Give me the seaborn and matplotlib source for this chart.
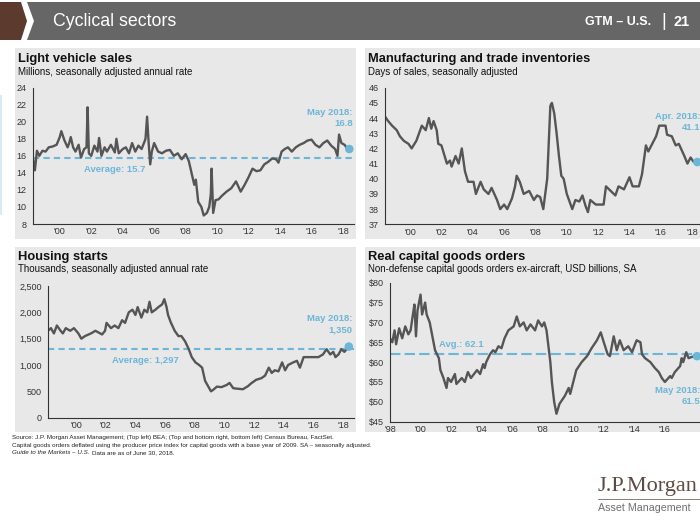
import matplotlib.pyplot as plt
import matplotlib.ticker as mticker
from matplotlib.patches import Polygon, Rectangle
import pandas as pd
import seaborn as sns

W, H = 700, 525
LINE = "#555555"
BLUE = "#6cb6d8"
PANEL = "#e8e8e8"

# ---------------- data ----------------

# Light vehicle sales, millions SAAR
lvs_year = [1998.25, 1998.42, 1998.55, 1998.70, 1998.90, 1999.10, 1999.30, 1999.55, 1999.80,
            2000.00, 2000.10, 2000.30, 2000.50, 2000.60, 2000.70, 2000.85, 2001.00, 2001.20,
            2001.35, 2001.55, 2001.70, 2001.77, 2001.85, 2002.00, 2002.20, 2002.40, 2002.50,
            2002.65, 2002.85, 2003.00, 2003.25, 2003.50, 2003.60, 2003.75, 2004.00, 2004.20,
            2004.40, 2004.60, 2004.80, 2005.00, 2005.20, 2005.35, 2005.45, 2005.55, 2005.65,
            2005.75, 2005.85, 2006.00, 2006.25, 2006.50, 2006.75, 2007.00, 2007.25, 2007.50,
            2007.75, 2008.00, 2008.20, 2008.40, 2008.55, 2008.65, 2008.80, 2009.00, 2009.15,
            2009.35, 2009.50, 2009.60, 2009.65, 2009.75, 2009.90, 2010.10, 2010.30, 2010.60,
            2010.90, 2011.20, 2011.35, 2011.50, 2011.75, 2012.00, 2012.25, 2012.50, 2012.75,
            2013.00, 2013.25, 2013.50, 2013.75, 2013.90, 2014.10, 2014.30, 2014.50, 2014.75,
            2015.00, 2015.25, 2015.50, 2015.75, 2016.00, 2016.25, 2016.50, 2016.75, 2017.00,
            2017.25, 2017.50, 2017.65, 2017.75, 2017.90, 2018.10, 2018.25, 2018.40]
lvs_value = [16.2, 14.3, 16.6, 16.0, 16.6, 16.5, 17.0, 17.1, 17.3,
             18.2, 18.9, 17.8, 17.0, 17.5, 18.2, 17.0, 16.5, 17.3,
             15.8, 16.8, 17.0, 21.7, 16.3, 16.0, 17.2, 16.5, 18.1,
             16.0, 17.0, 16.5, 17.3, 16.4, 18.0, 16.3, 16.8, 17.0,
             16.3, 17.5, 16.5, 17.2, 16.8, 17.5, 18.0, 20.6, 17.5,
             15.0, 16.5, 17.5, 16.5, 16.3, 16.6, 16.7, 16.0, 16.3,
             15.6, 16.2, 15.4, 13.8, 12.6, 13.2, 10.6, 10.0, 9.0,
             9.3, 10.0, 11.5, 14.5, 9.3, 10.8, 10.9, 11.3, 11.8,
             12.2, 13.0, 12.4, 11.8, 12.6, 13.5, 14.5, 14.2, 14.3,
             15.0, 15.3, 15.7, 15.6, 15.2, 16.5, 16.8, 17.0, 16.5,
             17.0, 17.3, 17.5, 17.8, 17.9, 17.3, 17.0, 17.5, 17.8,
             17.2, 16.8, 16.0, 18.5, 17.5, 17.3, 16.9, 16.8]
lvs_avg = 15.7

# Manufacturing and trade inventories, days of sales
inv_year = [1998.40, 1998.60, 1998.85, 1999.15, 1999.35, 1999.60, 1999.90, 2000.10, 2000.40,
            2000.75, 2001.00, 2001.20, 2001.35, 2001.50, 2001.70, 2001.80, 2002.00, 2002.35,
            2002.55, 2002.65, 2002.90, 2003.10, 2003.30, 2003.50, 2003.70, 2004.05, 2004.20,
            2004.50, 2004.70, 2005.00, 2005.20, 2005.55, 2005.75, 2006.00, 2006.20, 2006.50,
            2006.70, 2006.80, 2007.00, 2007.25, 2007.60, 2007.90, 2008.10, 2008.30, 2008.50,
            2008.75, 2008.95, 2009.05, 2009.20, 2009.35, 2009.50, 2009.65, 2009.80, 2010.00,
            2010.35, 2010.55, 2010.80, 2011.00, 2011.20, 2011.35, 2011.50, 2011.85, 2012.35,
            2012.50, 2012.80, 2013.10, 2013.30, 2013.65, 2014.00, 2014.20, 2014.60, 2014.80,
            2015.05, 2015.20, 2015.45, 2015.70, 2015.90, 2016.30, 2016.40, 2016.70, 2016.95,
            2017.15, 2017.50, 2017.70, 2017.90, 2018.10, 2018.33]
inv_value = [44.1, 43.8, 43.5, 43.2, 42.8, 42.5, 42.3, 42.0, 42.5,
             43.5, 43.2, 44.0, 43.3, 43.8, 43.2, 42.3, 42.2, 41.0,
             41.2, 40.8, 41.5, 41.0, 42.0, 40.5, 39.8, 39.8, 39.0,
             39.8, 39.3, 39.0, 39.4, 38.6, 38.0, 38.3, 38.0, 38.7,
             39.5, 40.2, 39.8, 39.0, 39.2, 38.6, 38.9, 38.8, 38.0,
             40.0, 44.8, 45.0, 44.3, 43.0, 41.5, 40.2, 40.0, 39.0,
             38.0, 38.6, 38.5, 38.9, 38.2, 37.8, 38.6, 38.3, 38.3,
             39.5, 39.2, 38.9, 39.5, 39.3, 40.1, 39.5, 39.5, 40.3,
             42.2, 41.8, 42.3, 42.8, 43.5, 43.5, 42.9, 42.8, 42.2,
             42.3, 41.5, 41.0, 41.4, 41.1, 41.1]

# Housing starts, thousands SAAR
hs_year = [1998.10, 1998.30, 1998.50, 1998.70, 1998.95, 1999.10, 1999.30, 1999.60, 1999.85,
           2000.15, 2000.35, 2000.60, 2001.00, 2001.30, 2001.75, 2001.95, 2002.05, 2002.35,
           2002.60, 2002.85, 2003.10, 2003.30, 2003.55, 2003.80, 2004.00, 2004.15, 2004.40,
           2004.60, 2004.80, 2004.95, 2005.10, 2005.35, 2005.55, 2005.80, 2005.95, 2006.10,
           2006.20, 2006.40, 2006.65, 2006.90, 2007.10, 2007.35, 2007.60, 2007.80, 2008.05,
           2008.30, 2008.50, 2008.70, 2008.90, 2009.10, 2009.25, 2009.50, 2009.80, 2010.15,
           2010.35, 2010.60, 2010.90, 2011.25, 2011.60, 2011.80, 2012.15, 2012.50, 2012.75,
           2013.00, 2013.20, 2013.40, 2013.65, 2013.90, 2014.10, 2014.30, 2014.65, 2014.90,
           2015.10, 2015.35, 2015.70, 2016.00, 2016.35, 2016.65, 2016.90, 2017.15, 2017.35,
           2017.50, 2017.70, 2017.90, 2018.10, 2018.40]
hs_value = [1650, 1700, 1600, 1750, 1650, 1600, 1700, 1650, 1700,
            1600, 1500, 1550, 1600, 1650, 1580, 1650, 1800, 1700,
            1750, 1700, 1850, 1800, 2000, 2050, 1950, 2100, 1900,
            2050, 2000, 2200, 2000, 2050, 2100, 2150, 2250, 2100,
            1950, 1800, 1650, 1550, 1550, 1450, 1300, 1150, 1050,
            1000, 950, 700, 600, 500, 530, 590, 580, 620,
            660, 560, 550, 540, 600, 650, 720, 750, 800,
            950, 850, 900, 880, 1050, 900, 1000, 1050, 1080,
            950, 1150, 1150, 1150, 1150, 1200, 1300, 1200, 1250,
            1150, 1200, 1300, 1250, 1350]
hs_avg = 1297

# Real capital goods orders, USD billions
cg_year = [1998.00, 1998.15, 1998.30, 1998.40, 1998.60, 1998.80, 1999.00, 1999.20, 1999.35,
           1999.50, 1999.60, 1999.70, 1999.80, 2000.00, 2000.10, 2000.30, 2000.40, 2000.60,
           2000.85, 2000.95, 2001.20, 2001.30, 2001.50, 2001.70, 2001.80, 2002.00, 2002.25,
           2002.35, 2002.70, 2002.90, 2003.10, 2003.30, 2003.70, 2003.90, 2004.10, 2004.20,
           2004.30, 2004.55, 2004.75, 2004.90, 2005.10, 2005.30, 2005.50, 2005.75, 2006.10,
           2006.30, 2006.50, 2006.75, 2006.95, 2007.20, 2007.50, 2007.70, 2007.95, 2008.10,
           2008.25, 2008.50, 2008.60, 2008.75, 2008.90, 2009.10, 2009.45, 2009.70, 2009.80,
           2010.00, 2010.20, 2010.55, 2010.90, 2011.20, 2011.55, 2011.80, 2012.00, 2012.25,
           2012.40, 2012.65, 2012.85, 2013.05, 2013.30, 2013.60, 2013.85, 2014.15, 2014.40,
           2014.50, 2014.70, 2015.05, 2015.35, 2015.60, 2015.80, 2016.00, 2016.35, 2016.45,
           2016.65, 2017.00, 2017.10, 2017.20, 2017.40, 2017.55, 2017.90, 2018.10]
cg_value = [66.0, 65.0, 68.0, 64.5, 68.5, 66.0, 69.0, 67.0, 68.0,
            72.0, 74.5, 66.5, 73.0, 77.0, 72.0, 75.0, 72.0, 70.0,
            65.0, 63.0, 61.0, 58.0, 56.0, 53.5, 56.0, 55.0, 57.0,
            54.5, 56.0, 55.0, 57.5, 56.0, 58.0, 57.0, 59.5, 58.5,
            60.0, 62.0, 63.0, 62.5, 64.0, 63.5, 66.0, 68.0, 69.0,
            71.5, 69.0, 70.0, 68.0, 69.5, 68.0, 70.5, 69.0, 70.0,
            68.0, 60.0, 55.0, 50.0, 47.0, 49.5, 51.5, 53.5, 52.0,
            55.0, 58.0, 60.0, 61.5, 63.5, 65.5, 67.5, 65.0, 62.0,
            61.5, 66.5, 63.0, 65.5, 63.0, 64.0, 62.5, 65.5, 65.0,
            62.0, 61.0, 60.0, 58.5, 57.5, 56.0, 55.0, 56.5, 56.0,
            57.5, 59.0, 61.0, 60.0, 62.5, 61.0, 61.5, 61.5]
cg_avg = 62.1

left_years = list(range(2000, 2019, 2))
cg_years_ticks = list(range(1998, 2017, 2))

# ---------------- helpers ----------------

def fig_text(fig, x, y, s, **kw):
    return fig.text(x / W, 1 - y / H, s, **kw)


def add_axes(fig, x0, y0, x1, y1):
    return fig.add_axes([x0 / W, 1 - y1 / H, (x1 - x0) / W, (y1 - y0) / H])


def style_axes(ax, xlim, ylim, yticks, xticks, fmt=None):
    ax.set_facecolor("none")
    for side in ["top", "right"]:
        ax.spines[side].set_visible(False)
    for side in ["left", "bottom"]:
        ax.spines[side].set_color("#333333")
        ax.spines[side].set_linewidth(0.8)
    ax.set_xlim(*xlim)
    ax.set_ylim(*ylim)
    ax.set_yticks(yticks)
    ax.set_xticks(xticks)
    ax.set_xticklabels([f"'{y % 100:02d}" for y in xticks])
    if fmt:
        ax.yaxis.set_major_formatter(mticker.StrMethodFormatter(fmt))
    ax.tick_params(axis="y", length=3, width=0.6, color="#333333", labelsize=6.5,
                   labelcolor="#333333", pad=1.5)
    ax.tick_params(axis="x", length=0, labelsize=6.5, labelcolor="#333333", pad=2.5)
    ax.set_xlabel("")
    ax.set_ylabel("")


def draw_series(ax, years, values, avg=None, dash=(3, 2)):
    df = pd.DataFrame({"year": years, "value": values})
    if avg is not None:
        ax.axhline(avg, color=BLUE, lw=1.5, ls=(0, dash), zorder=1)
    sns.lineplot(data=df, x="year", y="value", ax=ax, color=LINE, linewidth=1.7,
                 estimator=None, zorder=2)
    ax.scatter([years[-1]], [values[-1]], s=38, color=BLUE, zorder=5,
               clip_on=False, edgecolors="none")


# ---------------- figure ----------------

sns.set_style("white")
plt.rcParams["font.family"] = ["Liberation Sans", "DejaVu Sans"]

fig = plt.figure(figsize=(7, 5.25), dpi=100)

# header band
fig.add_artist(Polygon([(0, 1 - 2 / H), (21 / W, 1 - 2 / H), (27 / W, 1 - 21 / H),
                        (21 / W, 1 - 40 / H), (0, 1 - 40 / H)],
                       closed=True, transform=fig.transFigure, facecolor="#5c3b2e",
                       edgecolor="none"))
fig.add_artist(Polygon([(27 / W, 1 - 2 / H), (1, 1 - 2 / H), (1, 1 - 40 / H),
                        (27 / W, 1 - 40 / H), (34 / W, 1 - 21 / H)],
                       closed=True, transform=fig.transFigure, facecolor="#666666",
                       edgecolor="none"))
fig_text(fig, 53, 21, "Cyclical sectors", color="white", fontsize=12.8,
         va="center", ha="left")
fig_text(fig, 651, 22, "GTM – U.S.", color="white", fontsize=9, fontweight="bold",
         va="center", ha="right")
fig_text(fig, 664, 21, "|", color="white", fontsize=13, va="center", ha="center")
fig_text(fig, 690, 22, "21", color="white", fontsize=10.5, fontweight="bold",
         va="center", ha="right")

# faint sidebar mark at the left edge
fig.add_artist(Rectangle((0, 1 - 215 / H), 2 / W, 120 / H, transform=fig.transFigure,
                         facecolor="#d8eaf3", edgecolor="none"))

# panel backgrounds
for x0, y0, x1, y1 in [(15, 48, 356, 239), (365, 48, 700, 239),
                       (15, 247, 356, 432), (365, 247, 700, 432)]:
    fig.add_artist(Rectangle((x0 / W, 1 - y1 / H), (x1 - x0) / W, (y1 - y0) / H,
                             transform=fig.transFigure, facecolor=PANEL,
                             edgecolor="none", zorder=0))

title_kw = dict(fontsize=9.3, fontweight="bold", color="#111111", va="center", ha="left")
sub_kw = dict(fontsize=7, color="#111111", va="center", ha="left")
note_kw = dict(fontsize=6.8, fontweight="bold", color=BLUE, linespacing=1.25)

# --- top left: light vehicle sales
fig_text(fig, 18, 59, "Light vehicle sales", **title_kw)
fig_text(fig, 18, 72, "Millions, seasonally adjusted annual rate", **sub_kw)
ax1 = add_axes(fig, 33, 87.7, 354, 224)
draw_series(ax1, lvs_year, lvs_value, lvs_avg)
style_axes(ax1, (1998.3, 2018.7), (8, 24), list(range(8, 25, 2)), left_years)
ax1.text(2018.62, 20.45, "May 2018:\n16.8", ha="right", va="center",
         multialignment="right", **note_kw)
ax1.text(2003.5, 14.4, "Average: 15.7", ha="center", va="center", **note_kw)

# --- top right: manufacturing and trade inventories
fig_text(fig, 368, 59, "Manufacturing and trade inventories", **title_kw)
fig_text(fig, 368, 72, "Days of sales, seasonally adjusted", **sub_kw)
ax2 = add_axes(fig, 385, 87.7, 700, 224.3)
draw_series(ax2, inv_year, inv_value)
style_axes(ax2, (1998.4, 2018.5), (37, 46), list(range(37, 47)), left_years)
ax2.text(2018.55, 43.75, "Apr. 2018:\n41.1", ha="right", va="center",
         multialignment="right", clip_on=False, **note_kw)

# --- bottom left: housing starts
fig_text(fig, 18, 257, "Housing starts", **title_kw)
fig_text(fig, 18, 269.5, "Thousands, seasonally adjusted annual rate", **sub_kw)
ax3 = add_axes(fig, 48, 286, 354, 417.7)
draw_series(ax3, hs_year, hs_value, hs_avg)
style_axes(ax3, (1998.1, 2018.75), (0, 2500), list(range(0, 2501, 500)), left_years,
           fmt="{x:,.0f}")
ax3.text(2018.62, 1775, "May 2018:\n1,350", ha="right", va="center",
         multialignment="right", **note_kw)
ax3.text(2004.7, 1082, "Average: 1,297", ha="center", va="center", **note_kw)

# --- bottom right: real capital goods orders
fig_text(fig, 368, 257, "Real capital goods orders", **title_kw)
fig_text(fig, 368, 269.5, "Non-defense capital goods orders ex-aircraft, USD billions, SA",
         **sub_kw)
ax4 = add_axes(fig, 390, 282.7, 700, 421.7)
draw_series(ax4, cg_year, cg_value, cg_avg, dash=(5, 2))
style_axes(ax4, (1998, 2018.3), (45, 80), list(range(45, 81, 5)), cg_years_ticks,
           fmt="${x:.0f}")
ax4.text(2018.3, 51.5, "May 2018:\n61.5", ha="right", va="center",
         multialignment="right", clip_on=False, **note_kw)
ax4.text(2002.7, 64.5, "Avg.: 62.1", ha="center", va="center", **note_kw)

# footer
foot_kw = dict(fontsize=4.5, color="#222222", va="center", ha="left")
fig_text(fig, 12, 437.5, "Source: J.P. Morgan Asset Management; (Top left) BEA; (Top and bottom "
         "right, bottom left) Census Bureau, FactSet.", **foot_kw)
fig_text(fig, 12, 445, "Capital goods orders deflated using the producer price index for "
         "capital goods with a base year of 2009. SA – seasonally adjusted.", **foot_kw)
guide = fig_text(fig, 12, 452.5, "Guide to the Markets – U.S.", style="italic", **foot_kw)
fig.canvas.draw()
gx = guide.get_window_extent().x1
fig_text(fig, gx + 2.5, 452.5, "Data are as of June 30, 2018.", **foot_kw)

# logo
fig_text(fig, 597, 486, "J.P.Morgan", fontsize=16, family=["Liberation Serif", "DejaVu Serif"],
         color="#5e4b43", va="center", ha="left")
fig.add_artist(plt.Line2D([598 / W, 1], [1 - 499 / H, 1 - 499 / H], transform=fig.transFigure,
                          color="#8a7d76", lw=0.7))
fig_text(fig, 598, 508, "Asset Management", fontsize=7.7, color="#6f6f6f",
         va="center", ha="left")

fig.savefig("out.png", dpi=100)
